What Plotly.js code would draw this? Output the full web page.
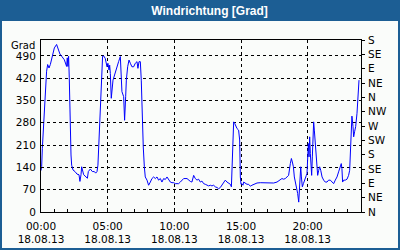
<!DOCTYPE html>
<html>
<head>
<meta charset="utf-8">
<script src="https://cdn.plot.ly/plotly-3.0.1.min.js"></script>
<style>html,body{margin:0;padding:0;background:#fafcfa;}#chart{width:400px;height:250px;}</style>
</head>
<body>
<div id="chart"></div>
<script>
// Hours since 18.08.13 00:00
const hours = [0.00,0.05,0.10,0.18,0.25,0.35,0.42,0.50,0.60,0.70,0.80,0.90,1.00,1.17,1.30,1.42,1.55,1.75,1.92,1.97,2.02,2.07,2.12,2.17,2.25,2.30,2.40,2.55,2.70,2.85,2.92,3.00,3.05,3.20,3.35,3.48,3.55,3.70,3.85,4.00,4.10,4.20,4.27,4.33,4.40,4.48,4.55,4.62,4.70,4.82,4.95,5.02,5.10,5.15,5.20,5.27,5.40,5.57,5.82,5.95,6.00,6.07,6.20,6.27,6.35,6.40,6.50,6.60,6.70,6.82,6.95,7.07,7.20,7.27,7.35,7.45,7.52,7.60,7.67,7.75,7.82,7.95,8.07,8.20,8.32,8.45,8.57,8.70,8.82,8.95,9.07,9.20,9.32,9.45,9.57,9.70,9.82,9.95,10.07,10.20,10.32,10.45,10.57,10.70,10.95,11.07,11.20,11.32,11.45,11.57,11.70,11.82,11.95,12.07,12.20,12.32,12.45,12.57,12.70,12.82,12.95,13.07,13.20,13.32,13.45,13.57,13.70,13.82,13.95,14.07,14.20,14.28,14.33,14.38,14.45,14.53,14.60,14.70,14.82,14.90,14.95,15.00,15.07,15.15,15.20,15.32,15.45,15.57,15.70,15.82,15.95,16.07,16.20,16.45,16.70,16.95,17.20,17.45,17.70,17.95,18.07,18.20,18.32,18.45,18.57,18.70,18.78,18.85,18.93,19.00,19.08,19.15,19.20,19.25,19.33,19.38,19.43,19.48,19.53,19.60,19.68,19.75,19.83,19.90,19.95,20.00,20.05,20.10,20.15,20.20,20.25,20.30,20.35,20.40,20.45,20.50,20.55,20.60,20.65,20.70,20.75,20.83,20.90,20.98,21.08,21.20,21.32,21.45,21.57,21.70,21.82,21.95,22.07,22.20,22.32,22.45,22.52,22.57,22.62,22.70,22.82,22.95,23.07,23.15,23.20,23.27,23.32,23.40,23.45,23.52,23.60,23.70,23.77,23.85];
const direction = [130,142,200,265,337,410,442,463,452,463,484,505,515,526,510,496,489,478,457,484,457,489,421,274,179,147,132,127,119,117,96,117,142,117,112,106,127,135,127,127,122,127,147,211,284,379,442,489,490,482,456,467,446,461,435,357,414,441,472,488,446,378,362,288,362,414,456,477,467,456,456,467,472,451,472,472,414,278,204,142,110,100,84,94,105,110,105,110,100,105,94,105,102,110,100,94,92,92,89,89,89,94,100,105,105,100,96,94,115,105,100,103,94,97,89,87,84,82,84,82,84,79,77,73,77,84,94,100,94,91,87,79,131,231,283,278,268,262,257,226,110,87,89,84,94,91,87,87,81,84,87,89,91,92,92,92,92,91,94,100,105,103,105,110,115,152,168,157,142,110,94,89,79,58,31,79,110,142,110,79,89,100,105,115,121,173,215,173,236,184,142,115,173,226,283,257,226,205,173,147,115,131,142,131,110,100,94,94,100,100,94,89,100,110,126,147,152,136,94,100,100,103,115,131,173,257,301,268,236,252,268,310,378,414];

const leftTicks = [0,70,140,210,280,350,420,490];
const compassVals = [0,45,90,135,180,225,270,315,360,405,450,495,540];
const compassText = ['N','NE','E','SE','S','SW','W','NW','N','NE','E','SE','S'];
const timeVals = [0,5,10,15,20];
const timeText = ['00:00<br>18.08.13','05:00<br>18.08.13','10:00<br>18.08.13','15:00<br>18.08.13','20:00<br>18.08.13'];

const W = 400, H = 250;
const m = {l: 41, r: 39, t: 40, b: 38, pad: 0};
const pw = W - m.l - m.r, ph = H - m.t - m.b;
const px = x => (x - m.l) / pw;
const py = y => (H - m.b - y) / ph;
const blue = '#1c5e94';
const fnt = {family: 'DejaVu Sans', size: 10.5, color: '#000'};

const layout = {
  width: W, height: H, margin: m,
  paper_bgcolor: '#fafcfa', plot_bgcolor: '#fafcfa',
  showlegend: false,
  title: {text: 'Windrichtung [Grad]', font: {family: 'Liberation Sans', size: 12, weight: 'bold', color: '#fff'},
          xref: 'container', yref: 'container', x: 0.524, xanchor: 'center', y: 1 - 10.5 / H, yanchor: 'middle'},
  xaxis: {range: [0, 24], tickmode: 'array', tickvals: timeVals, ticktext: timeText,
          showgrid: true, gridcolor: '#000', gridwidth: 1, griddash: '3px,3px',
          showline: true, linecolor: '#000', linewidth: 1, mirror: true,
          ticks: 'inside', ticklen: 4, tickcolor: '#000', ticklabelstandoff: 4,
          minor: {dtick: 1, tick0: 0, ticks: 'inside', ticklen: 3, tickcolor: '#000', showgrid: false},
          zeroline: false, tickfont: fnt, fixedrange: true},
  yaxis: {range: [0, 540], tickmode: 'array', tickvals: leftTicks, ticktext: leftTicks.map(String),
          showgrid: true, gridcolor: '#000', gridwidth: 1, griddash: '3px,3px',
          showline: true, linecolor: '#000', linewidth: 1,
          ticks: 'inside', ticklen: 3, tickcolor: '#000', ticklabelstandoff: 2,
          zeroline: false, tickfont: fnt, fixedrange: true},
  yaxis2: {range: [0, 540], overlaying: 'y', side: 'right', tickmode: 'array',
           tickvals: compassVals, ticktext: compassText, showgrid: false,
           showline: true, linecolor: '#000', linewidth: 1,
           ticks: 'outside', ticklen: 3, tickcolor: '#000', ticklabelstandoff: 1,
           zeroline: false, tickfont: fnt, fixedrange: true},
  annotations: [{text: 'Grad', xref: 'paper', yref: 'paper', x: px(36.5), y: py(45), xanchor: 'right', yanchor: 'middle',
                 showarrow: false, font: {family: 'DejaVu Sans', size: 10, color: '#000'}}],
  shapes: [
    {type: 'rect', xref: 'paper', yref: 'paper', x0: px(0), x1: px(W), y0: py(21), y1: py(0), fillcolor: blue, line: {width: 0}, layer: 'below'},
    {type: 'rect', xref: 'paper', yref: 'paper', x0: px(0), x1: px(2), y0: py(H), y1: py(0), fillcolor: blue, line: {width: 0}, layer: 'below'},
    {type: 'rect', xref: 'paper', yref: 'paper', x0: px(W - 2), x1: px(W), y0: py(H), y1: py(0), fillcolor: blue, line: {width: 0}, layer: 'below'},
    {type: 'rect', xref: 'paper', yref: 'paper', x0: px(0), x1: px(W), y0: py(H), y1: py(H - 2), fillcolor: blue, line: {width: 0}, layer: 'below'}
  ]
};

const traces = [
  {x: hours, y: direction, type: 'scatter', mode: 'lines', line: {color: '#0000ff', width: 1}, hoverinfo: 'skip'},
  {x: [0], y: [0], yaxis: 'y2', type: 'scatter', mode: 'markers', marker: {opacity: 0}, hoverinfo: 'skip'}
];

Plotly.newPlot('chart', traces, layout, {staticPlot: true, displayModeBar: false});
</script>
</body>
</html>
